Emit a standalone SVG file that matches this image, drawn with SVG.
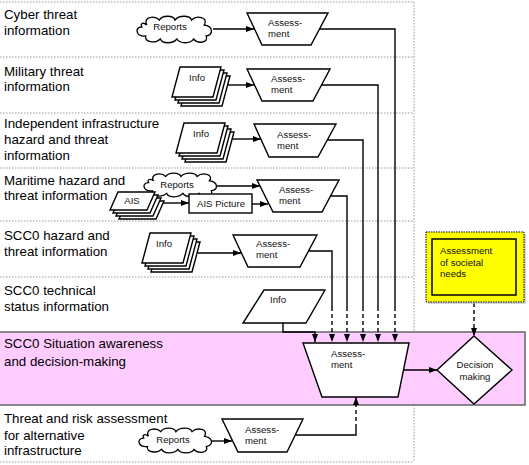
<svg xmlns="http://www.w3.org/2000/svg" width="529" height="465" viewBox="0 0 529 465">
<style>
.lane{font-family:"Liberation Sans",Arial,sans-serif;font-size:13.3px;fill:#000}
.sm{font-family:"Liberation Sans",Arial,sans-serif;font-size:9.6px;fill:#111}
.mid{text-anchor:middle}
.shape{fill:#fff;stroke:#000;stroke-width:1.4}
.dot{stroke:#999;stroke-width:1;stroke-dasharray:1.5,1.5;fill:none}
.conn{fill:none;stroke:#000;stroke-width:1.4}
.dash{fill:none;stroke:#000;stroke-width:1.4;stroke-dasharray:4,3}
</style>
<defs>
<marker id="ah" markerUnits="userSpaceOnUse" markerWidth="8" markerHeight="6" refX="8" refY="3" orient="auto">
<path d="M0,0 L8,3 L0,6 z" fill="#000"/>
</marker>
<path id="cloud" d="M12,10 C8,2 20,0 25,5 C28,0 39,0 41,5 C45,0 56,0 58,5 C63,0 76,2 71,10 C80,11 81,20 73,21 C76,28 64,29 60,24 C57,29 46,29 43,24 C39,29 28,29 26,24 C21,29 9,27 11,21 C1,22 -1,12 7,12 C5,8 9,7 12,10 Z"/>
<polygon id="para" points="8,0 49,0 41,30 0,30"/>
<g id="stack">
<use href="#para" x="9" y="9"/>
<use href="#para" x="6" y="6"/>
<use href="#para" x="3" y="3"/>
<use href="#para" x="0" y="0"/>
</g>
<polygon id="apara" points="8,0 45,0 37,18 0,18"/>
<g id="astack">
<use href="#apara" x="9" y="9"/>
<use href="#apara" x="6" y="6"/>
<use href="#apara" x="3" y="3"/>
<use href="#apara" x="0" y="0"/>
</g>
</defs>

<g id="lanes">
<line class="dot" x1="0" y1="2" x2="414" y2="2"/>
<line class="dot" x1="0" y1="57" x2="414" y2="57"/>
<line class="dot" x1="0" y1="113" x2="414" y2="113"/>
<line class="dot" x1="0" y1="168" x2="414" y2="168"/>
<line class="dot" x1="0" y1="221" x2="414" y2="221"/>
<line class="dot" x1="0" y1="277" x2="414" y2="277"/>
<line class="dot" x1="414" y1="2" x2="414" y2="332"/>
<line class="dot" x1="0" y1="462" x2="414" y2="462"/>
<line class="dot" x1="414" y1="405" x2="414" y2="462"/>
<rect id="pink-lane" x="-2" y="332" width="527" height="73" fill="#FFCCFF" stroke="#666" stroke-width="1.5"/>
</g>

<g id="lane-labels">
<text class="lane" x="4" y="19">Cyber threat</text>
<text class="lane" x="4" y="35">information</text>
<text class="lane" x="4" y="76">Military threat</text>
<text class="lane" x="4" y="91">information</text>
<text class="lane" x="4" y="128">Independent infrastructure</text>
<text class="lane" x="4" y="144">hazard and threat</text>
<text class="lane" x="4" y="160">information</text>
<text class="lane" x="4" y="185">Maritime hazard and</text>
<text class="lane" x="4" y="200">threat information</text>
<text class="lane" x="4" y="240">SCC0 hazard and</text>
<text class="lane" x="4" y="256">threat information</text>
<text class="lane" x="4" y="295">SCC0 technical</text>
<text class="lane" x="4" y="311">status information</text>
<text class="lane" x="4" y="348">SCC0 Situation awareness</text>
<text class="lane" x="4" y="366">and decision-making</text>
<text class="lane" x="4" y="423">Threat and risk assessment</text>
<text class="lane" x="4" y="440">for alternative</text>
<text class="lane" x="4" y="455">infrastructure</text>
</g>

<g id="connectors">
<line class="conn" x1="213" y1="29" x2="254" y2="29" marker-end="url(#ah)"/>
<line class="conn" x1="228" y1="85" x2="254" y2="85" marker-end="url(#ah)"/>
<line class="conn" x1="232" y1="139" x2="261" y2="139" marker-end="url(#ah)"/>
<line class="conn" x1="217" y1="186" x2="260" y2="186" marker-end="url(#ah)"/>
<line class="conn" x1="160" y1="203" x2="189" y2="203" marker-end="url(#ah)"/>
<line class="conn" x1="252" y1="204" x2="268" y2="204" marker-end="url(#ah)"/>
<line class="conn" x1="198" y1="253" x2="241" y2="253" marker-end="url(#ah)"/>
<line class="conn" x1="212" y1="441" x2="232" y2="441" marker-end="url(#ah)"/>

<polyline class="conn" points="319.5,29 395,29 395,307"/>
<line class="dash" x1="395" y1="307" x2="395" y2="342" marker-end="url(#ah)"/>
<polyline class="conn" points="321.5,85 378,85 378,307"/>
<line class="dash" x1="378" y1="307" x2="378" y2="342" marker-end="url(#ah)"/>
<polyline class="conn" points="327,140 363,140 363,307"/>
<line class="dash" x1="363" y1="307" x2="363" y2="342" marker-end="url(#ah)"/>
<polyline class="conn" points="330.5,196 347,196 347,307"/>
<line class="dash" x1="347" y1="307" x2="347" y2="342" marker-end="url(#ah)"/>
<polyline class="conn" points="308.5,251 332,251 332,307"/>
<line class="dash" x1="332" y1="307" x2="332" y2="342" marker-end="url(#ah)"/>
<polyline class="conn" points="283,323 283,332 315,332 315,342" marker-end="url(#ah)"/>

<line class="conn" x1="403" y1="370" x2="437" y2="370" marker-end="url(#ah)"/>
<line class="dash" x1="474" y1="303" x2="474" y2="336" marker-end="url(#ah)"/>
<polyline class="conn" points="295,435 356,435 356,428"/>
<line class="dash" x1="356" y1="428" x2="356" y2="397" marker-end="url(#ah)"/>
</g>

<g id="cyber-reports">
<use href="#cloud" class="shape" transform="translate(135,15) scale(0.975,1)"/>
<text class="sm mid" x="170" y="29.5">Reports</text>
</g>
<g id="cyber-assessment">
<polygon class="shape" points="247,13 328,13 311,45 262,45"/>
<text class="sm" x="268" y="25.5">Assess-</text>
<text class="sm" x="268" y="36.5">ment</text>
</g>

<g id="military-info">
<use href="#stack" class="shape" x="172" y="67"/>
<text class="sm mid" x="197" y="80.5">Info</text>
</g>
<g id="military-assessment">
<polygon class="shape" points="247,69 330,69 313,101 262,101"/>
<text class="sm" x="271" y="81.5">Assess-</text>
<text class="sm" x="271" y="92.5">ment</text>
</g>

<g id="infra-info">
<use href="#stack" class="shape" x="176" y="123"/>
<text class="sm mid" x="201" y="136.5">Info</text>
</g>
<g id="infra-assessment">
<polygon class="shape" points="254,124 336,124 318,157 269,157"/>
<text class="sm" x="277" y="137.5">Assess-</text>
<text class="sm" x="277" y="148.5">ment</text>
</g>

<g id="maritime-reports">
<use href="#cloud" class="shape" transform="translate(142,172) scale(0.95,0.893)"/>
<text class="sm mid" x="177" y="187.5">Reports</text>
</g>
<g id="maritime-ais">
<use href="#astack" class="shape" x="110" y="192"/>
<text class="sm mid" x="132" y="204">AIS</text>
</g>
<g id="ais-picture">
<rect class="shape" x="189" y="194" width="63" height="19"/>
<text class="sm mid" x="221" y="207">AIS Picture</text>
</g>
<g id="maritime-assessment">
<polygon class="shape" points="257,180 339,180 322,212 273,212"/>
<text class="sm" x="279" y="192.5">Assess-</text>
<text class="sm" x="279" y="203.5">ment</text>
</g>

<g id="scc0-info">
<use href="#stack" class="shape" x="142" y="233"/>
<text class="sm mid" x="164" y="246.5">Info</text>
</g>
<g id="scc0-assessment">
<polygon class="shape" points="233,235 317,235 300,267 248,267"/>
<text class="sm" x="256" y="246.5">Assess-</text>
<text class="sm" x="256" y="258">ment</text>
</g>

<g id="technical-info">
<polygon class="shape" points="264,290 325,290 306,323 243,323"/>
<text class="sm" x="270" y="302.5">Info</text>
</g>

<g id="societal-needs">
<rect x="428" y="234" width="98" height="70" fill="#bbb" opacity="0.6"/>
<rect x="426" y="232" width="98" height="70" fill="#FFFF00" stroke="#000" stroke-width="1" stroke-dasharray="1.5,1"/>
<rect x="432" y="239" width="84" height="56" fill="none" stroke="#000" stroke-width="1.5"/>
<text class="sm" x="440" y="253.5">Assessment</text>
<text class="sm" x="440" y="265.5">of societal</text>
<text class="sm" x="440" y="277">needs</text>
</g>

<g id="main-assessment">
<polygon class="shape" points="303,343 409,343 398,397 322,397"/>
<text class="sm" x="331" y="356.5">Assess-</text>
<text class="sm" x="331" y="367.5">ment</text>
</g>

<g id="decision-making">
<polygon class="shape" points="474,336 512,370 474,404 437,370"/>
<text class="sm mid" x="475" y="367.5">Decision</text>
<text class="sm mid" x="475" y="379.5">making</text>
</g>

<g id="alt-reports">
<use href="#cloud" class="shape" transform="translate(137,427) scale(0.95,0.93)"/>
<text class="sm mid" x="173" y="442.5">Reports</text>
</g>
<g id="alt-assessment">
<polygon class="shape" points="222,419 303,419 287,452 238,452"/>
<text class="sm" x="245" y="432.5">Assess-</text>
<text class="sm" x="245" y="443.5">ment</text>
</g>
</svg>
